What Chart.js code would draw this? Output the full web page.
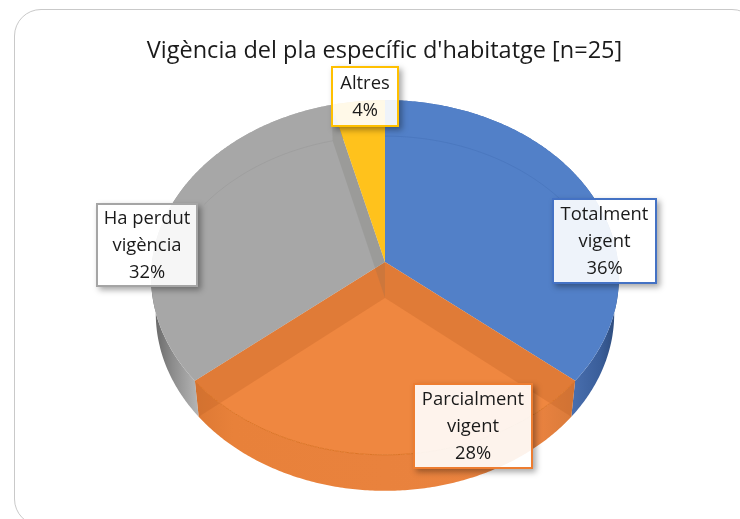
<!DOCTYPE html>
<html>
<head>
<meta charset="utf-8">
<style>
  html, body { margin: 0; padding: 0; background: #fff; overflow: hidden; }
  #wrap { position: relative; width: 740px; height: 519px; overflow: hidden; }
  #frame { position: absolute; left: 14px; top: 9px; width: 745px; height: 517px; box-sizing: border-box;
           border: 1px solid #c9c9c9; border-radius: 27px; }
  canvas { position: absolute; left: 0; top: 0; }
</style>
</head>
<body>
<div id="wrap">
  <div id="frame"></div>
  <canvas id="pieChart" width="740" height="519"></canvas>
</div>
<script src="https://cdn.jsdelivr.net/npm/chart.js@4"></script>
<script>
const chartTitle = "Vigència del pla específic d'habitatge [n=25]";
const categories = ['Totalment vigent', 'Parcialment vigent', 'Ha perdut vigència', 'Altres'];
const labelLines = [['Totalment', 'vigent'], ['Parcialment', 'vigent'], ['Ha perdut', 'vigència'], ['Altres']];
const counts = [9, 7, 8, 1];
const faceColors = ['#5280C8', '#EF8740', '#A7A7A7', '#FFC21C'];
const borderColors = ['#4472C4', '#ED7D31', '#A5A5A5', '#FFC000'];

// label boxes: left, top, right, bottom
const labelBoxes = [[552, 198, 657, 284], [413, 383, 533, 469], [96, 203, 198, 287], [331, 66, 399, 127]];

// projection of the flat pie onto the tilted disc
const cx = 385, cy = 262, rx = 233, ry = 176, persp = 0.0873;
const depth = 36, bottomScale = 0.98;

function topPoint(theta) {
  const u = Math.sin(theta), v = -Math.cos(theta), w = 1 - persp * v;
  return [cx + rx * u / w, cy + ry * v / w];
}
function bottomPoint(theta) {
  const p = topPoint(theta);
  return [cx + (p[0] - cx) * bottomScale, p[1] + depth];
}
function rimPoints(fn, a, b) {
  const pts = [], n = Math.max(2, Math.ceil(Math.abs(b - a) / 0.01));
  for (let i = 0; i <= n; i++) pts.push(fn(a + (b - a) * i / n));
  return pts;
}
function poly(ctx, pts) {
  ctx.beginPath();
  pts.forEach((p, i) => i ? ctx.lineTo(p[0], p[1]) : ctx.moveTo(p[0], p[1]));
  ctx.closePath();
}
function strokeLine(ctx, pts) {
  ctx.beginPath();
  pts.forEach((p, i) => i ? ctx.lineTo(p[0], p[1]) : ctx.moveTo(p[0], p[1]));
  ctx.stroke();
}
function hGrad(ctx, x0, x1, stops) {
  const g = ctx.createLinearGradient(x0, 0, x1, 0);
  stops.forEach(s => g.addColorStop(s[0], s[1]));
  return g;
}

const pie3d = {
  id: 'pie3d',
  beforeDatasetDraw(chart, args) {
    const ctx = chart.ctx;
    const slices = args.meta.data.map(arc => {
      const p = arc.getProps(['startAngle', 'endAngle'], true);
      return { a: p.startAngle + Math.PI / 2, b: p.endAngle + Math.PI / 2 };
    });
    const wallFill = [
      hGrad(ctx, 570, 620, [[0, '#4A70B0'], [0.6, '#3A5E9A'], [1, '#2A4673']]),
      hGrad(ctx, 195, 575, [[0, '#DD7934'], [0.1, '#E8813A'], [0.9, '#EA8340'], [1, '#D97A3A']]),
      hGrad(ctx, 150, 200, [[0, '#5F5F5F'], [0.45, '#8C8C8C'], [1, '#B8B8B8']]),
      '#C89A20'
    ];
    ctx.save();

    // outer walls
    slices.forEach((s, i) => {
      const topRim = rimPoints(topPoint, s.a, s.b);
      const botRim = rimPoints(bottomPoint, s.a, s.b);
      poly(ctx, topRim.concat(botRim.reverse()));
      ctx.fillStyle = wallFill[i];
      ctx.fill();
    });

    // top faces
    slices.forEach((s, i) => {
      poly(ctx, [[cx, cy]].concat(rimPoints(topPoint, s.a, s.b)));
      ctx.fillStyle = faceColors[i];
      ctx.fill();
    });

    // far rim of the base, faintly visible through the top
    slices.forEach((s, i) => {
      if (i === 1 || i === 3) return;
      ctx.strokeStyle = i === 0 ? 'rgba(50,90,160,.22)' : 'rgba(120,120,120,.18)';
      ctx.lineWidth = 1;
      strokeLine(ctx, rimPoints(bottomPoint, s.a, s.b).filter(p => p[1] < 205));
    });

    // cut walls, seen through the translucent top
    const cutWall = (theta, color) => {
      const t = topPoint(theta), b = bottomPoint(theta);
      poly(ctx, [[cx, cy], t, b, [cx, cy + depth]]);
      ctx.fillStyle = color;
      ctx.fill();
    };
    cutWall(slices[2].b, 'rgba(110,110,100,.2)');
    cutWall(slices[1].a, 'rgba(190,95,35,.3)');
    cutWall(slices[1].b, 'rgba(190,95,35,.3)');

    // front rim line of the top face
    ctx.strokeStyle = '#DC7426';
    ctx.lineWidth = 1;
    strokeLine(ctx, rimPoints(topPoint, slices[1].a, slices[1].b));

    ctx.restore();
    return false;
  },
  afterDatasetsDraw(chart) {
    const ctx = chart.ctx;
    const total = counts.reduce((s, c) => s + c, 0);
    ctx.save();
    ctx.font = '18.4px "Open Sans"';
    ctx.textAlign = 'center';
    ctx.textBaseline = 'middle';
    labelLines.forEach((lines, i) => {
      const [l, t, r, b] = labelBoxes[i];
      // shadow only outside the box, the box itself is slightly see-through
      ctx.save();
      ctx.beginPath();
      ctx.rect(0, 0, 740, 519);
      ctx.rect(l, t, r - l, b - t);
      ctx.clip('evenodd');
      ctx.shadowColor = 'rgba(0,0,0,.35)';
      ctx.shadowBlur = 6;
      ctx.shadowOffsetX = 3;
      ctx.shadowOffsetY = 3;
      ctx.fillStyle = '#fff';
      ctx.fillRect(l, t, r - l, b - t);
      ctx.restore();
      ctx.fillStyle = 'rgba(255,255,255,.9)';
      ctx.fillRect(l, t, r - l, b - t);
      ctx.strokeStyle = borderColors[i];
      ctx.lineWidth = 2;
      ctx.strokeRect(l + 1, t + 1, r - l - 2, b - t - 2);
      const all = lines.concat(Math.round(counts[i] / total * 100) + '%');
      const mid = (t + b) / 2 + 1, lh = 27;
      ctx.fillStyle = '#1a1a1a';
      all.forEach((txt, k) => ctx.fillText(txt, (l + r) / 2, mid + (k - (all.length - 1) / 2) * lh));
    });
    ctx.restore();
  }
};

new Chart(document.getElementById('pieChart'), {
  type: 'pie',
  data: {
    labels: categories,
    datasets: [{ data: counts, backgroundColor: faceColors, borderWidth: 0 }]
  },
  options: {
    responsive: false,
    animation: false,
    events: [],
    layout: { padding: { left: 29 } },
    plugins: {
      legend: { display: false },
      tooltip: { enabled: false },
      title: {
        display: true,
        text: chartTitle,
        color: '#1a1a1a',
        font: { family: '"Open Sans"', size: 23.5, weight: 'normal' },
        padding: { top: 37, bottom: 8 }
      }
    }
  },
  plugins: [pie3d]
});
</script>
</body>
</html>
